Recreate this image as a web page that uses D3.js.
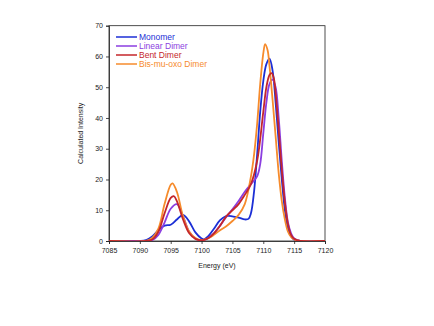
<!DOCTYPE html>
<html><head><meta charset="utf-8">
<script src="https://cdn.jsdelivr.net/npm/d3@7"></script>
<style>body{margin:0;background:#fff}svg{display:block}text{font-family:"Liberation Sans",Arial,sans-serif}</style>
</head><body><svg id="c" width="434" height="326"></svg>
<script>
const seriesNames = ["Monomer","Linear Dimer","Bent Dimer","Bis-mu-oxo Dimer"];
const seriesColors = ["#1c2fd6","#8b3ee0","#c4262b","#f68b2c"];
const xTicks = [7085,7090,7095,7100,7105,7110,7115,7120];
const yTicks = [0,10,20,30,40,50,60,70];

const monomerE = [7085,7090,7091,7092,7093,7094,7095,7096,7097,7098,7099,7100,7100.4,7101,7102,7103,7104,7104.4,7105,7106,7107,7107.6,7108,7108.5,7109,7109.5,7110,7110.5,7111,7111.5,7112,7112.5,7113,7113.5,7114,7114.5,7115,7116,7120];
const monomerI = [0,0,0.3,1.5,3.5,5,5.3,7,8.5,6.3,2.8,0.8,0.5,1.4,4,6.8,8.1,8.2,8,7.6,7,7.2,9,16,28,42,52,57.5,59.3,55.5,45,32,20,10,4,1.5,0.4,0,0];

const linearE = [7085,7091,7092,7093,7094,7095,7096,7097,7098,7099,7100,7101,7102,7103,7104,7105,7106,7107,7108,7109,7109.5,7110,7110.5,7111,7111.5,7112,7112.5,7113,7113.5,7114,7114.5,7115,7116,7120];
const linearI = [0,0,0.3,2,6,10.5,12,8,3,0.8,0.2,0.8,2.5,5,7.8,10.3,13,16,18.5,21,25,35,45,51,52.5,50,40,26,14,6,2.5,0.8,0,0];

const bentE = [7085,7091,7092,7093,7094,7095,7095.5,7096,7097,7098,7099,7100,7101,7102,7103,7104,7105,7106,7107,7108,7109,7110,7110.5,7111,7111.35,7111.7,7112,7112.5,7113,7113.5,7114,7114.5,7115,7116,7120];
const bentI = [0,0,0.5,3,9,14,14.6,13,7,2.5,0.7,0.2,0.8,2.5,5,8,10,12,15,18.5,26,42,50,54,54.6,53,48,36,23,12.5,5.5,2,0.7,0,0];

const bisE = [7085,7091,7092,7093,7094,7095,7095.3,7096,7097,7098,7099,7100,7101,7102,7103,7104,7105,7106,7107,7108,7108.5,7109,7109.5,7110,7110.3,7110.7,7111,7111.5,7112,7112.5,7113,7113.5,7114,7114.5,7115,7116,7120];
const bisI = [0,0,1,4,12,18.3,18.7,16,8,3,1,0.3,0.8,2,3.5,4.8,6.5,8.5,12,21,28,38,51,61,64,62,57,46,34,22,13,7,3,1.3,0.5,0,0];

const series = [[monomerE,monomerI],[linearE,linearI],[bentE,bentI],[bisE,bisI]];

const svg = d3.select("#c");
const L=109, R=325, T=25.7, B=241;
const x = d3.scaleLinear().domain([7085,7120]).range([L,R]);
const y = d3.scaleLinear().domain([0,70]).range([B,T]);

svg.append("rect").attr("x",L).attr("y",T).attr("width",R-L).attr("height",B-T)
  .attr("fill","none").attr("stroke","#222").attr("stroke-width",0.8);

const xa = svg.append("g").attr("transform",`translate(0,${B})`)
  .call(d3.axisBottom(x).tickValues(xTicks).tickSize(3).tickFormat(d3.format("d")));
const ya = svg.append("g").attr("transform",`translate(${L},0)`)
  .call(d3.axisLeft(y).tickValues(yTicks).tickSize(3));
[xa,ya].forEach(a=>{a.select(".domain").attr("stroke","#222").attr("stroke-width",0.8);
  a.selectAll(".tick line").attr("stroke","#222").attr("stroke-width",0.8);
  a.selectAll("text").attr("font-size",7).attr("fill","#222").attr("font-family","Liberation Sans, Arial, sans-serif");});
xa.selectAll("text").attr("dy","0.9em");

svg.append("text").attr("x",(L+R)/2).attr("y",268).attr("text-anchor","middle")
  .attr("font-size",7).attr("fill","#222").text("Energy (eV)");
svg.append("text").attr("transform",`translate(83,${(T+B)/2}) rotate(-90)`).attr("text-anchor","middle")
  .attr("font-size",7).attr("fill","#222").text("Calculated Intensity");

const line = d3.line().x(d=>x(d[0])).y(d=>y(Math.max(0,d[1]))).curve(d3.curveCatmullRom.alpha(0.5));
svg.append("clipPath").attr("id","cp").append("rect").attr("x",L).attr("y",T-5).attr("width",R-L).attr("height",B-T+5);
const order=[0,1,3,2];
order.forEach(i=>{
  const [E,I]=series[i];
  svg.append("path").datum(E.map((e,k)=>[e,I[k]])).attr("d",line)
    .attr("fill","none").attr("stroke",seriesColors[i]).attr("stroke-width",1.8).attr("clip-path","url(#cp)");
});

const leg = svg.append("g");
seriesNames.forEach((n,i)=>{
  const yy = 37 + i*9;
  leg.append("line").attr("x1",116).attr("x2",137).attr("y1",yy).attr("y2",yy)
    .attr("stroke",seriesColors[i]).attr("stroke-width",1.5);
  leg.append("text").attr("x",139).attr("y",yy+3).attr("font-size",8.5).attr("fill",seriesColors[i]).text(n);
});
</script></body></html>
